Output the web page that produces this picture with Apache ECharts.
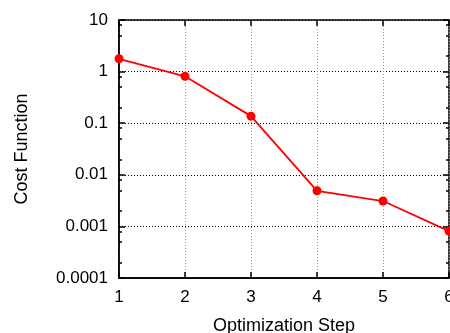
<!DOCTYPE html>
<html>
<head>
<meta charset="utf-8">
<script src="https://cdn.jsdelivr.net/npm/echarts@6/dist/echarts.min.js"></script>
<style>
html, body { margin: 0; padding: 0; background: #fff; }
#chart { width: 450px; height: 333px; }
</style>
</head>
<body>
<div id="chart"></div>
<script>
// optimisation steps and cost values
var steps = [1, 2, 3, 4, 5, 6];
var costs = [1.77, 0.81, 0.137, 0.0049, 0.0031, 0.00081];
var yTicks = [0.0001, 0.001, 0.01, 0.1, 1, 10];
var yMinorTicks = [0.0002, 0.0005, 0.0008, 0.002, 0.005, 0.008, 0.02, 0.05, 0.08,
	0.2, 0.5, 0.8, 2, 5, 8];
var xTicks = [1, 2, 3, 4, 5, 6];

var chart = echarts.init(document.getElementById('chart'));
var font = 'Liberation Sans, Arial, sans-serif';

var pts = [];
for (var i = 0; i < steps.length; i++) {
	pts.push([steps[i], costs[i]]);
}

function yLabel(v) {
	if (v >= 1) return String(Math.round(v));
	return String(Number(v.toPrecision(1)));
}

var logBase = {
	type : 'log',
	logBase : 10,
	min : 0.0001,
	max : 10,
	gridIndex : 0
};

chart.setOption({
	animation : false,
	backgroundColor : '#fff',
	grid : {
		left : 119,
		right : 1,
		top : 20,
		bottom : 55,
		outerBoundsMode : 'none',
		containLabel : false,
		show : true,
		borderColor : '#000',
		borderWidth : 1.5,
		backgroundColor : 'transparent'
	},
	xAxis : [{
		type : 'value',
		min : 1,
		max : 6,
		interval : 1,
		name : 'Optimization Step',
		nameLocation : 'middle',
		nameGap : 39,
		nameTextStyle : { fontFamily : font, fontSize : 18, color : '#000' },
		axisLine : { show : true, lineStyle : { color : '#000', width : 1.5 } },
		axisTick : { show : true, inside : true, length : 6, lineStyle : { color : '#000', width : 1.5 },
			customValues : xTicks },
		axisLabel : { fontFamily : font, fontSize : 17, color : '#000', margin : 11,
			customValues : xTicks },
		splitLine : { show : true, lineStyle : { color : '#999', type : [1, 2], width : 1 } }
	}, {
		type : 'value',
		position : 'top',
		min : 1,
		max : 6,
		interval : 1,
		axisLine : { show : false },
		axisTick : { show : true, inside : true, length : 6, lineStyle : { color : '#000', width : 1.5 } },
		axisLabel : { show : false },
		splitLine : { show : false }
	}],
	yAxis : [Object.assign({}, logBase, {
		position : 'left',
		name : 'Cost Function',
		nameLocation : 'middle',
		nameGap : 88,
		nameRotate : 90,
		nameTextStyle : { fontFamily : font, fontSize : 18, color : '#000' },
		axisLine : { show : true, lineStyle : { color : '#000', width : 1.5 } },
		axisTick : { show : true, inside : true, length : 6, lineStyle : { color : '#000', width : 1.5 },
			customValues : yTicks },
		axisLabel : { fontFamily : font, fontSize : 17, color : '#000', margin : 11,
			customValues : yTicks, formatter : yLabel },
		splitLine : { show : true, lineStyle : { color : '#000', type : [1, 2], width : 1 } }
	}), Object.assign({}, logBase, {
		position : 'left',
		axisLine : { show : false },
		axisTick : { show : true, inside : true, length : 3, lineStyle : { color : '#000', width : 1.5 },
			customValues : yMinorTicks },
		axisLabel : { show : false },
		splitLine : { show : false }
	}), Object.assign({}, logBase, {
		position : 'right',
		axisLine : { show : false },
		axisTick : { show : true, inside : true, length : 6, lineStyle : { color : '#000', width : 1.5 },
			customValues : yTicks },
		axisLabel : { show : false },
		splitLine : { show : false }
	}), Object.assign({}, logBase, {
		position : 'right',
		axisLine : { show : false },
		axisTick : { show : true, inside : true, length : 3, lineStyle : { color : '#000', width : 1.5 },
			customValues : yMinorTicks },
		axisLabel : { show : false },
		splitLine : { show : false }
	})],
	series : [{
		type : 'line',
		data : pts,
		xAxisIndex : 0,
		yAxisIndex : 0,
		symbol : 'circle',
		symbolSize : 9,
		clip : false,
		lineStyle : { color : '#ff0000', width : 1.8 },
		itemStyle : { color : '#ff0000' }
	}]
});
</script>
</body>
</html>
